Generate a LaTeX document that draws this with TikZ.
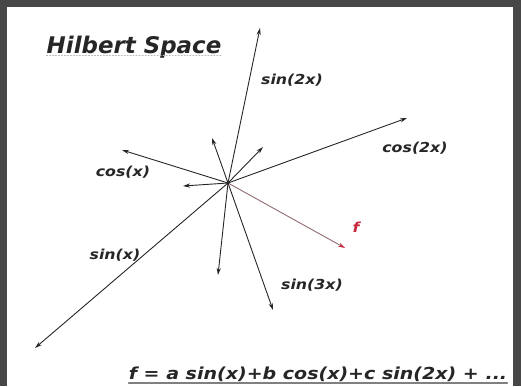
\documentclass[tikz,border=0pt]{standalone}
\usepackage{fontspec}
\newfontfamily\labfont[FakeStretch=1.15,
  BoldFont={DejaVu Sans Bold}, BoldItalicFont={DejaVu Sans Bold Oblique}]{DejaVu Sans}
\newfontfamily\titlefont[
  BoldFont={DejaVu Sans Bold}, BoldItalicFont={DejaVu Sans Bold Oblique}]{DejaVu Sans}
\usetikzlibrary{arrows.meta}
\definecolor{framegray}{HTML}{474747}
\definecolor{inkgray}{HTML}{262626}
\definecolor{fred}{HTML}{C8283C}

\begin{document}
\begin{tikzpicture}[x=1bp, y=-1bp, line cap=round, line join=round,
  every node/.style={font=\labfont\bfseries\itshape\fontsize{13.8}{16}\selectfont, text=inkgray, inner sep=0pt},
  vec/.style={draw=inkgray, line width=.9pt, -{Stealth[length=7bp,width=4.2bp]}}]
  \useasboundingbox (0,0) rectangle (521,386);
  \fill[framegray] (0,0) rectangle (521,386);
  \fill[white] (7,7) rectangle (513,386);

  \coordinate (O)  at (228,183);
  \coordinate (S1) at (35,348);
  \coordinate (C1) at (122,150);
  \coordinate (S2) at (260,28);
  \coordinate (C2) at (407,118);
  \coordinate (S3) at (273,310);
  \coordinate (F)  at (345,248);
  \coordinate (U1) at (183,186);
  \coordinate (U2) at (212,138);
  \coordinate (U3) at (263,147);
  \coordinate (U4) at (218,275);

  \draw[vec] (O)--(S1);
  \draw[vec] (O)--(C1);
  \draw[vec] (O)--(S2);
  \draw[vec] (O)--(C2);
  \draw[vec] (O)--(S3);
  \draw[vec] (O)--(U1);
  \draw[vec] (O)--(U2);
  \draw[vec] (O)--(U3);
  \draw[vec] (O)--(U4);
  \draw[vec, draw=gray!75!fred, -{Stealth[length=7bp,width=4.2bp,color=fred]}] (O)--(F);
  \fill[inkgray] (O) circle (1.5bp);

  \node (sinx)   at (115,255) {sin(x)};
  \node (cosx)   at (123,172) {cos(x)};
  \node (sintwo) at (292,80)  {sin(2x)};
  \node (costwo) at (415,148) {cos(2x)};
  \node (sinthr) at (312,285) {sin(3x)};
  \node[text=fred] (flab) at (356,227) {f};

  \node[font=\titlefont\bfseries\itshape\fontsize{23}{26}\selectfont] (title) at (134,47) {Hilbert Space};
  \draw[gray!55, dotted, line width=1pt] ([yshift=-2.5pt]title.base west) -- ([yshift=-2.5pt]title.base east);

  \node[anchor=base, font=\labfont\bfseries\itshape\fontsize{16.6}{18}\selectfont] (expan) at (318,379)
    {f = a sin(x)+b cos(x)+c sin(2x) + ...};
  \draw[gray, line width=1.3pt] ([yshift=-4pt]expan.base west) -- ([yshift=-4pt]expan.base east);
\end{tikzpicture}
\end{document}
